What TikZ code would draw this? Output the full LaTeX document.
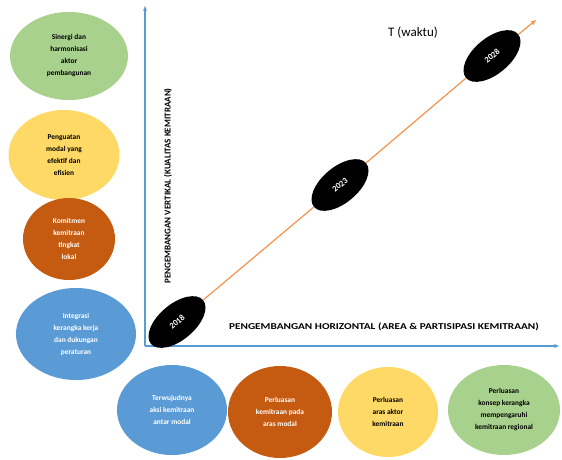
\documentclass[tikz,border=0pt]{standalone}
\usepackage{fontspec}
\setmainfont{Carlito}
\usetikzlibrary{shapes.geometric, arrows.meta, positioning}
\definecolor{axisblue}{HTML}{5B9BD5}
\definecolor{lightgreen}{HTML}{A9D18E}
\definecolor{softyellow}{HTML}{FFD966}
\definecolor{rustorange}{HTML}{C55A11}
\definecolor{lineorange}{HTML}{F4934A}

\begin{document}
\begin{tikzpicture}[x=1pt, y=-1pt,
  goal/.style={ellipse, inner sep=0pt, align=center, font=\fontsize{7.4}{12}\selectfont\bfseries},
  year/.style={ellipse, fill=black, text=white, rotate=40, minimum width=68pt, minimum height=36pt, inner sep=0pt, font=\fontsize{8.5}{10}\selectfont\bfseries},
  axislabel/.style={font=\fontsize{9}{10}\selectfont\bfseries}]
\useasboundingbox (0,0) rectangle (562,460);

% Axes
\coordinate (origin) at (145,346);
\coordinate (vtop) at (145,6);
\coordinate (hend) at (559,346);
\draw[axisblue, line width=1.1pt, -{Stealth[length=5pt, width=4pt]}] (origin) -- (vtop);
\draw[axisblue, line width=1.1pt, -{Stealth[length=5pt, width=4pt]}] (origin) -- (hend);

% Years
\node[year] (y2018) at (177,322) {2018};
\node[year] (y2023) at (340,185) {2023};
\node[year] (y2028) at (492,56) {2028};
\coordinate (tip) at (536,20);
\draw[lineorange, line width=1.2pt] (y2018) -- (y2023);
\draw[lineorange, line width=1.2pt] (y2023) -- (y2028);
\draw[lineorange, line width=1.2pt, -{Stealth[length=6pt, width=5pt]}] (y2028) -- (tip);
\node[font=\fontsize{13}{15}\selectfont] (waktu) at (413,33) {T (waktu)};

% Axis labels
\node[axislabel, rotate=90] (vlabel) at (168,186) {PENGEMBANGAN VERTIKAL (KUALITAS KEMITRAAN)};
\node[axislabel, xscale=1.25] (hlabel) at (384,327) {PENGEMBANGAN HORIZONTAL (AREA \& PARTISIPASI KEMITRAAN)};

% Left column
\node[goal, fill=lightgreen, minimum width=118pt, minimum height=88pt] (g1) at (69,56) {Sinergi dan\\harmonisasi\\aktor\\pembangunan};
\node[goal, fill=softyellow, minimum width=111pt, minimum height=90pt] (g2) at (64,155) {Penguatan\\modal yang\\efektif dan\\efisien};
\node[goal, fill=rustorange, text=white, minimum width=92pt, minimum height=82pt] (g3) at (69,239) {Komitmen\\kemitraan\\tingkat\\lokal};
\node[goal, fill=axisblue, text=white, minimum width=120pt, minimum height=92pt] (g4) at (76,334) {Integrasi\\kerangka kerja\\dan dukungan\\peraturan};

% Bottom row
\node[goal, fill=axisblue, text=white, minimum width=110pt, minimum height=90pt] (h1) at (172,410) {Terwujudnya\\aksi kemitraan\\antar modal};
\node[goal, fill=rustorange, text=white, minimum width=104pt, minimum height=92pt] (h2) at (280,412) {Perluasan\\kemitraan pada\\aras modal};
\node[goal, fill=softyellow, minimum width=100pt, minimum height=90pt] (h3) at (388,412) {Perluasan\\aras aktor\\kemitraan};
\node[goal, fill=lightgreen, minimum width=112pt, minimum height=90pt] (h4) at (504,410) {Perluasan\\konsep kerangka\\mempengaruhi\\kemitraan regional};
\end{tikzpicture}
\end{document}
